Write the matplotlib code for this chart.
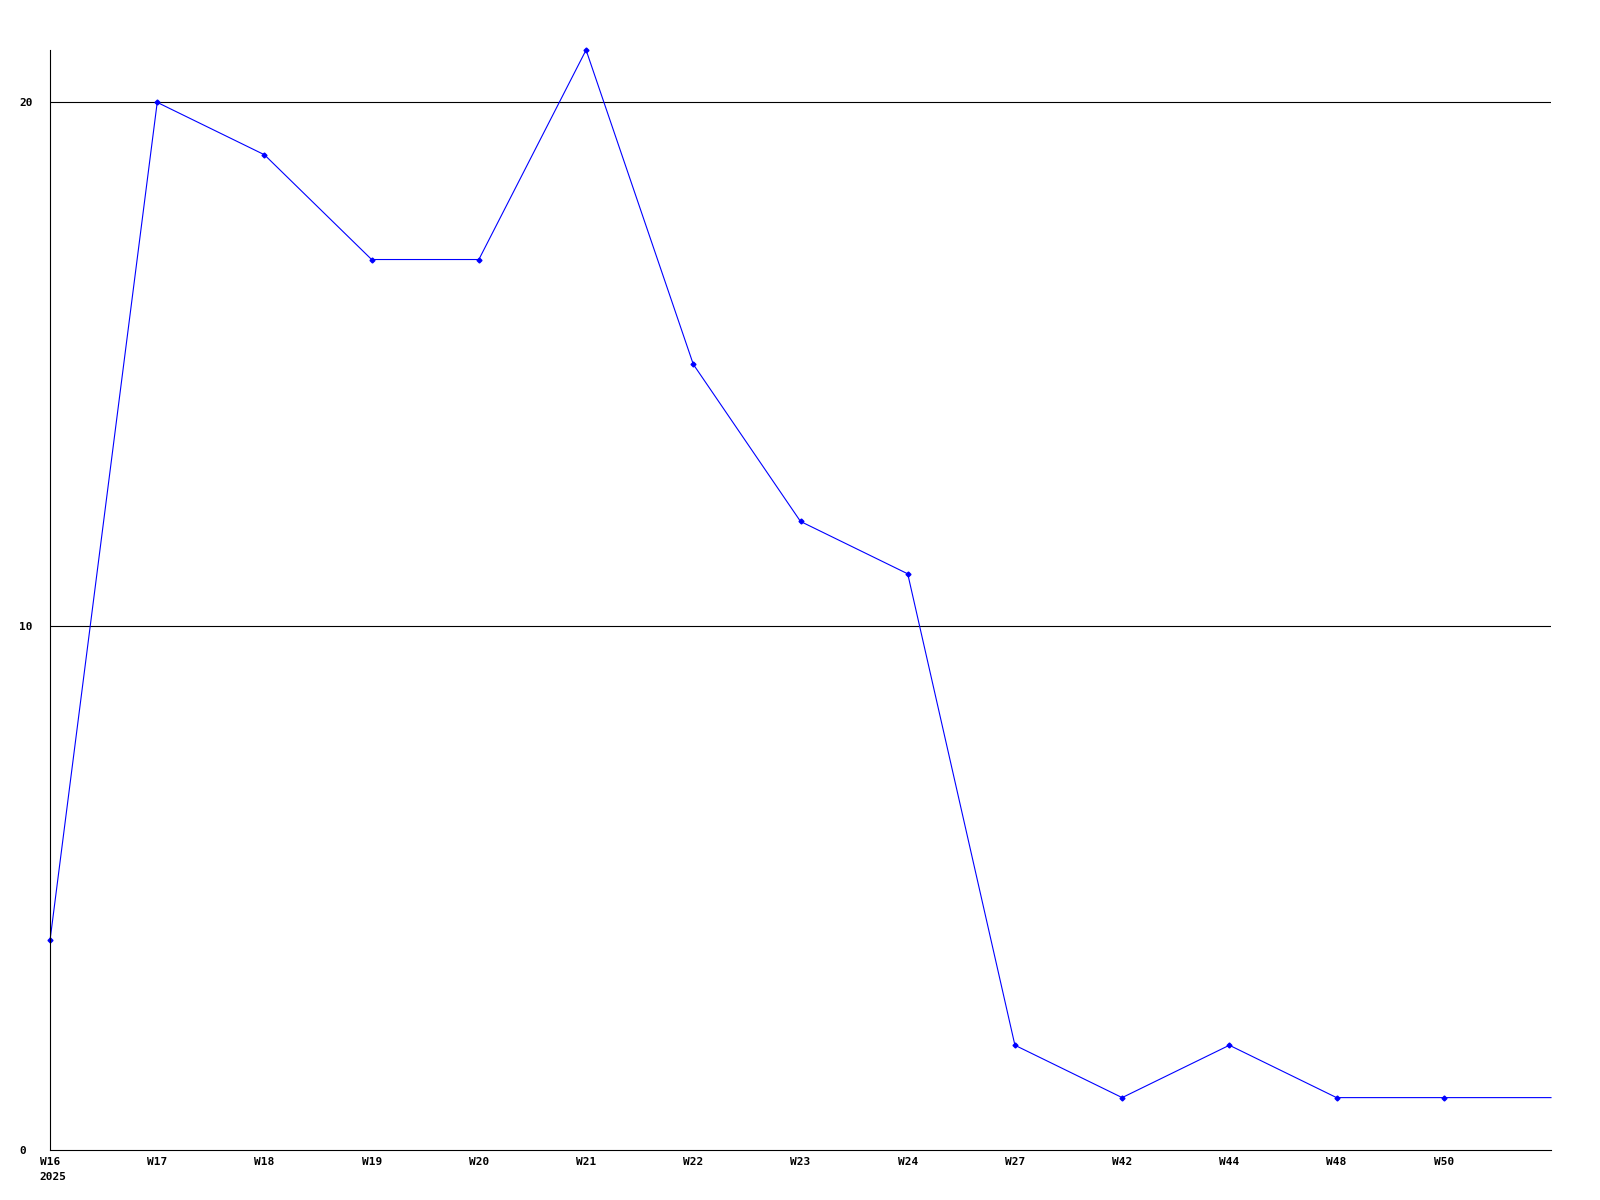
import matplotlib.pyplot as plt

weeks = ["W16", "W17", "W18", "W19", "W20", "W21", "W22", "W23",
         "W24", "W27", "W42", "W44", "W48", "W50", ""]
counts = [4, 20, 19, 17, 17, 21, 15, 12, 11, 2, 1, 2, 1, 1, 1]
year_label = "2025"
y_ticks = [0, 10, 20]

plt.rcParams["font.family"] = "DejaVu Sans Mono"
plt.rcParams["font.weight"] = "bold"

fig = plt.figure(figsize=(16, 12), dpi=100)
ax = fig.add_axes((50 / 1600, 50 / 1200, 1501 / 1600, 1100 / 1200))

x = list(range(len(counts)))
ax.plot(x, counts, color="#0000ff", linewidth=0.8, clip_on=False)
ax.plot(x[:-1], counts[:-1], linestyle="none", marker="D", markersize=2.5,
        color="#0000ff", clip_on=False)

for v in y_ticks[1:]:
    ax.axhline(v, color="black", linewidth=0.8, zorder=0)

ax.set_xlim(0, len(counts) - 1)
ax.set_ylim(0, 21)
ax.set_xticks(x)
ax.set_xticklabels(weeks, fontsize=8, fontweight="bold")
ax.set_yticks(y_ticks)
ax.set_yticklabels([str(v) for v in y_ticks], fontsize=8, fontweight="bold")
ax.tick_params(axis="both", length=0)
ax.tick_params(axis="x", pad=5)
ax.tick_params(axis="y", pad=22)
for lab in ax.get_yticklabels():
    lab.set_horizontalalignment("left")

ax.annotate(year_label, xy=(0, 0), xycoords="data", xytext=(-8, -16),
            textcoords="offset points", ha="left", va="top",
            fontsize=8, fontweight="bold", annotation_clip=False)

for side in ["top", "right"]:
    ax.spines[side].set_visible(False)
for side in ["left", "bottom"]:
    ax.spines[side].set_color("black")
    ax.spines[side].set_linewidth(0.8)

fig.savefig("out.png", dpi=100)
